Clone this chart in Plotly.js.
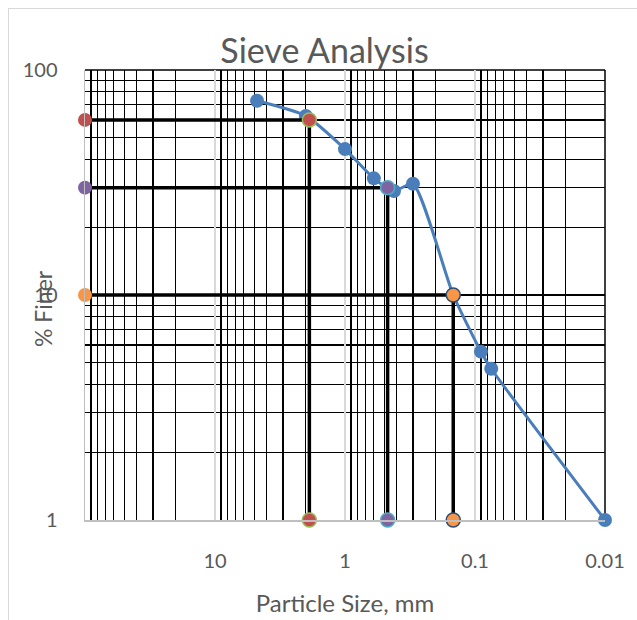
<!DOCTYPE html>
<html>
<head>
<meta charset="utf-8">
<script src="https://cdn.plot.ly/plotly-3.0.1.min.js"></script>
<style>
  html, body { margin: 0; padding: 0; background: #ffffff; }
  #wrap { position: relative; width: 637px; height: 620px; overflow: hidden; }
  #chart { position: absolute; left: 0; top: 0; width: 637px; height: 620px; }
  #frame { position: absolute; left: 8px; top: 8px; width: 640px; height: 640px;
           border-left: 1.5px solid #d9d9d9; border-top: 1.5px solid #d9d9d9;
           pointer-events: none; }
</style>
</head>
<body>
<div id="wrap">
  <div id="chart"></div>
  <div id="frame"></div>
</div>
<script>
// ---- data ----
const sieveSize    = [4.75, 2.0, 1.0, 0.6, 0.42, 0.3, 0.147, 0.09, 0.075, 0.01];   // mm
const percentFiner = [73, 62.5, 44.5, 33, 29, 31.2, 10, 5.6, 4.7, 1];              // %

const dNames   = ['D60', 'D30', 'D10'];
const dPercent = [60, 30, 10];
const dSize    = [1.88, 0.47, 0.147];
const dFill    = ['#C0504D', '#8064A2', '#F79646'];
const dOutline = ['#9BBB59', '#4BACC6', '#2C4D75'];

const sizeAxisStart = 100;   // left end of reversed size axis
const finerAxisStart = 1;    // bottom of % finer axis

const xTickVals = [10, 1, 0.1, 0.01];
const xTickText = ['10', '1', '0.1', '0.01'];
const xMinorVals = [90,80,70,60,50,40,30,20, 9,8,7,6,5,4,3,2, 0.9,0.8,0.7,0.6,0.5,0.4,0.3,0.2, 0.09,0.08,0.07,0.06,0.05,0.04,0.03,0.02];
const yTickVals = [1, 10, 100];
const yTickText = ['1', '10', '100'];
const yMinorVals = [2,3,4,5,6,7,8,9, 20,30,40,50,60,70,80,90];

const textColor = '#595959';
const fontFamily = 'Lato, "Open Sans", sans-serif';

// ---- traces ----
const traces = [{
  type: 'scatter',
  mode: 'lines+markers',
  name: 'Sieve',
  x: sieveSize,
  y: percentFiner,
  line: { color: '#4A7EBB', width: 3, shape: 'spline', smoothing: 0.6 },
  marker: { color: '#4A7EBB', size: 14 },
  cliponaxis: false,
  showlegend: false
}];

dNames.forEach(function (nm, i) {
  traces.push({
    type: 'scatter',
    mode: 'lines+markers',
    name: nm,
    x: [sizeAxisStart, dSize[i], dSize[i]],
    y: [dPercent[i], dPercent[i], finerAxisStart],
    line: { color: '#000000', width: 3.5 },
    marker: {
      color: dFill[i],
      size: 14,
      line: { color: ['rgba(0,0,0,0)', dOutline[i], dOutline[i]], width: [0, 1.5, 1.5] }
    },
    cliponaxis: false,
    showlegend: false
  });
});

const layout = {
  width: 637,
  height: 620,
  margin: { l: 85, r: 32, t: 70, b: 100, pad: 0 },
  paper_bgcolor: '#ffffff',
  plot_bgcolor: '#ffffff',
  font: { family: fontFamily, color: textColor, size: 20 },
  showlegend: false,
  title: {
    text: 'Sieve Analysis',
    font: { family: fontFamily, size: 34, color: textColor },
    x: 324.5 / 637, xanchor: 'center', xref: 'container',
    y: 1 - 51 / 620, yanchor: 'middle', yref: 'container'
  },
  xaxis: {
    type: 'log',
    range: [2, -2],
    tickmode: 'array',
    tickvals: xTickVals,
    ticktext: xTickText,
    ticks: '',
    ticklabelstandoff: 22,
    tickfont: { family: fontFamily, size: 20, color: textColor },
    showgrid: true,
    gridcolor: '#d9d9d9',
    gridwidth: 1.5,
    minor: { tickmode: 'array', tickvals: xMinorVals, showgrid: true, gridcolor: '#000000', gridwidth: 1.2, ticks: '' },
    showline: true,
    linecolor: '#bfbfbf',
    linewidth: 1.5,
    zeroline: false,
    automargin: false,
    title: { text: 'Particle Size, mm', font: { family: fontFamily, size: 24, color: textColor }, standoff: 24 }
  },
  yaxis: {
    type: 'log',
    range: [0, 2],
    tickmode: 'array',
    tickvals: yTickVals,
    ticktext: yTickText,
    ticks: '',
    ticklabelstandoff: 22,
    tickfont: { family: fontFamily, size: 20, color: textColor },
    showgrid: true,
    gridcolor: '#000000',
    gridwidth: 1.2,
    minor: { tickmode: 'array', tickvals: yMinorVals, showgrid: true, gridcolor: '#000000', gridwidth: 1.2, ticks: '' },
    showline: true,
    linecolor: '#bfbfbf',
    linewidth: 1.5,
    zeroline: false,
    automargin: false
  },
  shapes: [
    { type: 'line', xref: 'paper', yref: 'paper', x0: 0, x1: 1, y0: 1, y1: 1, layer: 'below',
      line: { color: '#000000', width: 1.5 } },
    { type: 'line', xref: 'paper', yref: 'paper', x0: 1, x1: 1, y0: 0, y1: 1, layer: 'below',
      line: { color: '#000000', width: 1.5 } }
  ],
  annotations: [{
    text: '% Finer',
    xref: 'paper', yref: 'paper',
    x: (43 - 85) / 520, y: 1 - (309 - 70) / 450,
    xanchor: 'center', yanchor: 'middle',
    textangle: -90,
    showarrow: false,
    font: { family: fontFamily, size: 23, color: textColor }
  }]
};

Plotly.newPlot('chart', traces, layout, { displayModeBar: false, staticPlot: true });
</script>
</body>
</html>
